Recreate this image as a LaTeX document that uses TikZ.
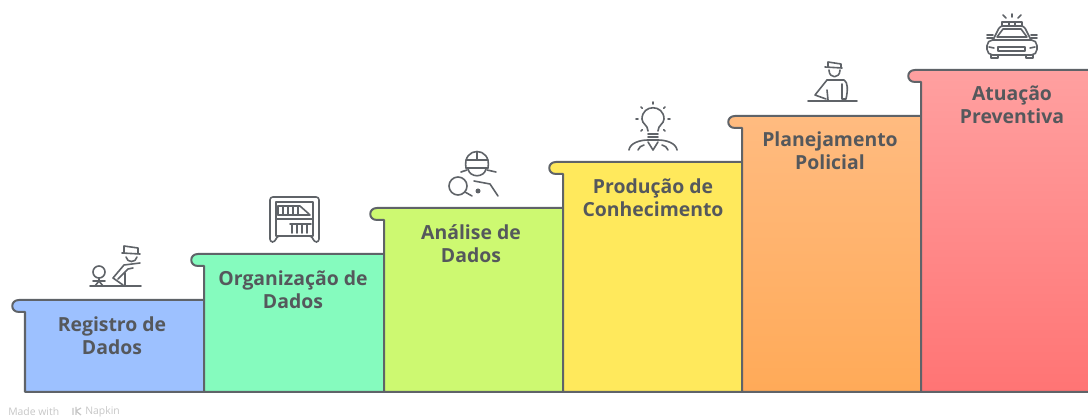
\documentclass[tikz,border=0pt]{standalone}
\usepackage{fontspec}
\setmainfont{Open Sans}
\usepackage{tikz}
\usetikzlibrary{calc}

\definecolor{edgegray}{HTML}{5F6368}
\definecolor{textgray}{HTML}{55585C}
\definecolor{stepblue}{RGB}{157,193,255}
\definecolor{stepgreen}{RGB}{133,251,190}
\definecolor{steplime}{RGB}{205,249,113}
\definecolor{stepyellow}{RGB}{255,233,92}
\definecolor{steporange}{RGB}{255,187,128}
\definecolor{steporangelow}{RGB}{255,170,88}
\definecolor{stepred}{RGB}{255,160,160}
\definecolor{stepredlow}{RGB}{255,116,116}
\tikzset{
    stairstep/.style={draw=edgegray, line width=0.05cm, line join=round},
    steplabel/.style={text=textgray, align=center, font=\bfseries\fontsize{13.8}{16.3}\selectfont},
    footertext/.style={text=black!22, anchor=west, font=\fontsize{7.4}{8.5}\selectfont, inner sep=0pt},
    iconline/.style={draw=edgegray, line width=0.04cm, line cap=round, line join=round}
}

\begin{document}
\begin{tikzpicture}[x=0.025cm, y=-0.025cm]
    \clip (0, 0) rectangle (1088, 418);
    \fill[white] (0, 0) rectangle (1088, 418);

    % Steps, left to right
    \draw[stairstep, fill=stepblue]
        (25, 392) -- (25, 312) -- (19, 312) .. controls (10, 312) and (10, 300) .. (19, 300) -- (204, 300) -- (204, 392) -- cycle;
    \draw[stairstep, fill=stepgreen]
        (204, 392) -- (204, 266) -- (198, 266) .. controls (189, 266) and (189, 254) .. (198, 254) -- (384, 254) -- (384, 392) -- cycle;
    \draw[stairstep, fill=steplime]
        (384, 392) -- (384, 220) -- (377, 220) .. controls (368, 220) and (368, 208) .. (377, 208) -- (563, 208) -- (563, 392) -- cycle;
    \draw[stairstep, fill=stepyellow]
        (563, 392) -- (563, 174) -- (556, 174) .. controls (547, 174) and (547, 162) .. (556, 162) -- (742, 162) -- (742, 392) -- cycle;
    \draw[stairstep, top color=steporange, middle color=steporange!92!steporangelow, bottom color=steporangelow]
        (742, 392) -- (742, 128) -- (735, 128) .. controls (726, 128) and (726, 116) .. (735, 116) -- (921, 116) -- (921, 392) -- cycle;
    \draw[stairstep, top color=stepred, middle color=stepred!88!stepredlow, bottom color=stepredlow]
        (921, 392) -- (921, 82) -- (915, 82) .. controls (906, 82) and (906, 70) .. (915, 70) -- (1096, 70) -- (1096, 392) -- cycle;

    % Labels
    \node[steplabel] (registro) at (112, 336) {Registro de\\Dados};
    \node[steplabel] (organizacao) at (293, 290) {Organização de\\Dados};
    \node[steplabel] (analise) at (471, 244) {Análise de\\Dados};
    \node[steplabel] (producao) at (653, 198) {Produção de\\Conhecimento};
    \node[steplabel] (planejamento) at (830, 151) {Planejamento\\Policial};
    \node[steplabel] (atuacao) at (1012, 105) {Atuação\\Preventiva};

    % Footer
    \node[footertext] (madewith) at (8, 412) {Made with};
    \node[footertext] (napkin) at (85, 412) {Napkin};
    \draw[black!22, line width=0.03cm] (73, 408) -- (73, 415) (76, 407) -- (76, 415) (76, 411) -- (81, 408) (76, 411) -- (81, 415);

    % Icon: clerk and desk
    \draw[iconline] (90, 286) -- (141, 286);
    \draw[iconline] (99, 272) circle (6);
    \draw[iconline] (99, 278) -- (99, 281) (93, 281) -- (105, 281) (99, 281) -- (95, 286) (99, 281) -- (103, 286);
    \draw[iconline] (122, 253) -- (140, 254) (124, 253) -- (124, 246) -- (138, 248) -- (138, 254);
    \draw[iconline] (126, 257) .. controls (127, 263) and (136, 263) .. (137, 257);
    \draw[iconline] (140, 263) -- (124, 265) -- (113, 278) -- (123, 285) (125, 273) -- (125, 285) (133, 268) -- (128, 269) -- (118, 279);

    % Icon: bookshelf
    \draw[iconline, rounded corners=2pt] (270, 242) -- (270, 197) -- (319, 197) -- (319, 242) -- (314, 242) -- (312, 236) -- (277, 236) -- (275, 242) -- cycle;
    \draw[iconline] (276, 202) rectangle (313, 236) (276, 219) -- (313, 219);
    \foreach \bookx in {278, 283, 288, 293, 298}
        \draw[iconline] (\bookx, 206) -- (\bookx, 215);
    \draw[iconline] (278, 215) -- (310, 215) (278, 206) -- (300, 206) (300, 206) -- (309, 214);
    \foreach \bookx in {292, 297, 302, 307}
        \draw[iconline] (\bookx, 224) -- (\bookx, 233);
    \draw[iconline] (290, 224) -- (311, 224);

    % Icon: analyst with magnifier
    \draw[iconline] (466, 168) .. controls (462, 146) and (492, 146) .. (488, 168);
    \draw[iconline] (466, 160) -- (488, 160) (477, 152) -- (477, 160) (466, 168) -- (488, 168);
    \draw[iconline] (468, 169) .. controls (470, 178) and (484, 178) .. (486, 169);
    \draw[iconline] (461, 172) -- (467, 170) (487, 170) -- (496, 172);
    \draw[iconline] (458, 186) circle (9);
    \draw[iconline] (465, 192) -- (472, 196);
    \draw[iconline] (474, 181) -- (490, 184) -- (498, 196);
    \fill[edgegray] (478, 191) circle (2.5);

    % Icon: bulb and shoulders
    \draw[iconline] (648, 131) .. controls (648, 125) and (642, 124) .. (642, 119) .. controls (642, 104) and (664, 104) .. (664, 119) .. controls (664, 124) and (658, 125) .. (658, 131);
    \draw[iconline] (648, 134) -- (658, 134) (648, 137) -- (658, 137);
    \foreach \raya in {0, 45, 135, 180, 225, 270, 315}
        \draw[iconline] ($(653, 119)+(\raya:15)$) -- ($(653, 119)+(\raya:17)$);
    \draw[iconline] (629, 150) .. controls (630, 143) and (640, 140) .. (648, 140) -- (658, 140) .. controls (666, 140) and (676, 143) .. (677, 150);
    \draw[iconline] (638, 150) .. controls (639, 147) and (641, 146) .. (644, 145) (668, 150) .. controls (667, 147) and (665, 146) .. (662, 145);
    \draw[iconline] (648, 142) -- (653, 150) -- (658, 142);

    % Icon: officer at counter
    \draw[iconline] (808, 101) -- (857, 101);
    \draw[iconline] (825, 67) -- (842, 68) (828, 67) -- (828, 62) -- (841, 64) -- (841, 68);
    \draw[iconline] (829, 70) .. controls (829, 79) and (840, 79) .. (840, 70);
    \draw[iconline] (827, 80) -- (844, 80) .. controls (848, 82) and (848, 90) .. (846, 99) -- (842, 99) -- (842, 84);
    \draw[iconline] (827, 80) -- (815, 95) -- (826, 99) (827, 90) -- (828, 100);

    % Icon: patrol car
    \draw[iconline, rounded corners=2pt] (993, 40) -- (1000, 26) -- (1024, 26) -- (1031, 40);
    \draw[iconline] (997, 37) -- (1003, 29) -- (1021, 29) -- (1027, 37) -- cycle;
    \draw[iconline, rounded corners=4pt] (987, 55) -- (987, 40) -- (1037, 40) -- (1037, 55) -- cycle;
    \draw[iconline] (987, 35) -- (993, 35) (987, 38) -- (993, 38) (1031, 35) -- (1037, 35) (1031, 38) -- (1037, 38);
    \draw[iconline] (998, 47) rectangle (1025, 51);
    \draw[iconline] (989, 47) -- (994, 48) (1030, 48) -- (1035, 47);
    \draw[iconline] (1002, 22) rectangle (1022, 26) (1009, 22) -- (1009, 26) (1015, 22) -- (1015, 26);
    \draw[iconline] (991, 55) -- (991, 58) -- (998, 58) -- (998, 55) (1026, 55) -- (1026, 58) -- (1033, 58) -- (1033, 55);
    \draw[iconline] (1012, 14) -- (1012, 17) (1003, 15) -- (1006, 18) (1021, 15) -- (1018, 18);
\end{tikzpicture}
\end{document}
